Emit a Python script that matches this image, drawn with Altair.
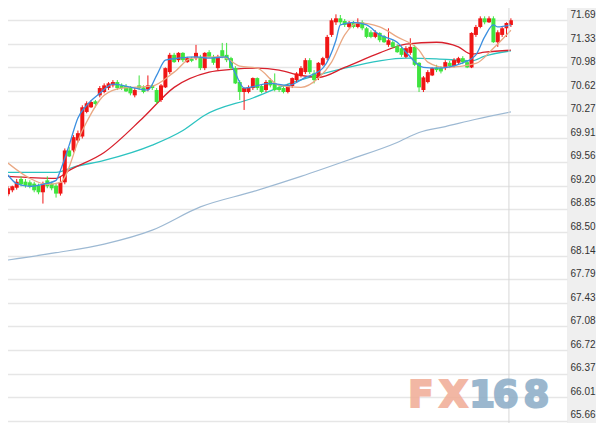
import altair as alt
import pandas as pd

# ---- candle data (index, OHLC) ----
opens = [69.07, 69.13, 69.17, 69.30, 69.26, 69.25, 69.23, 69.20, 69.10, 69.28,
         69.23, 69.20, 69.08, 69.25, 69.73, 69.73, 69.88, 69.94, 70.31, 70.38,
         70.47, 70.56, 70.61, 70.67, 70.71, 70.76, 70.71, 70.70, 70.67, 70.56,
         70.71, 70.68, 70.65, 70.71, 70.64, 70.49, 70.68, 70.91, 71.17, 71.09,
         71.20, 71.06, 71.11, 71.12, 71.14, 70.97, 71.21, 71.14, 70.97, 71.24,
         71.17, 71.12, 70.97, 70.76, 70.61, 70.61, 70.67, 70.82, 70.70, 70.64,
         70.79, 70.74, 70.68, 70.67, 70.61, 70.70, 70.79, 70.85, 70.91, 71.09,
         70.89, 70.82, 71.02, 71.12, 71.47, 71.66, 71.72, 71.68, 71.59, 71.65,
         71.59, 71.66, 71.57, 71.51, 71.44, 71.50, 71.45, 71.32, 71.36, 71.30,
         71.27, 71.14, 71.20, 71.29, 71.05, 70.64, 70.76, 70.86, 70.98, 70.97,
         70.97, 71.05, 71.00, 71.05, 71.12, 71.06, 70.98, 71.47, 71.59, 71.72,
         71.66, 71.72, 71.36, 71.47, 71.57, 71.62]
closes = [69.16, 69.19, 69.26, 69.22, 69.20, 69.19, 69.13, 69.10, 69.23, 69.19,
          69.16, 69.08, 69.25, 69.73, 69.64, 69.93, 69.99, 70.38, 70.44, 70.46,
          70.43, 70.67, 70.71, 70.74, 70.76, 70.67, 70.67, 70.62, 70.59, 70.64,
          70.67, 70.61, 70.71, 70.67, 70.46, 70.71, 70.97, 71.17, 71.06, 71.20,
          71.09, 71.12, 71.08, 71.20, 70.97, 71.20, 71.14, 71.05, 71.14, 71.14,
          71.09, 70.97, 70.74, 70.61, 70.67, 70.68, 70.82, 70.67, 70.61, 70.76,
          70.71, 70.64, 70.64, 70.61, 70.71, 70.82, 70.89, 70.97, 71.09, 70.91,
          70.79, 71.05, 71.12, 71.44, 71.69, 71.72, 71.66, 71.62, 71.65, 71.59,
          71.66, 71.57, 71.44, 71.44, 71.51, 71.39, 71.36, 71.39, 71.29, 71.21,
          71.17, 71.27, 71.29, 71.02, 70.68, 70.83, 70.91, 70.97, 70.94, 70.92,
          71.06, 71.00, 71.09, 71.12, 71.06, 70.98, 71.50, 71.59, 71.72, 71.66,
          71.72, 71.36, 71.51, 71.57, 71.65, 71.69]
highs = [69.19, 69.20, 69.30, 69.34, 69.30, 69.28, 69.26, 69.23, 69.26, 69.34,
         69.26, 69.23, 69.34, 69.76, 69.78, 69.96, 70.03, 70.41, 70.47, 70.49,
         70.49, 70.70, 70.74, 70.76, 70.79, 70.79, 70.74, 70.73, 70.70, 70.67,
         70.86, 70.71, 70.86, 70.73, 70.67, 70.73, 70.98, 71.20, 71.20, 71.21,
         71.21, 71.14, 71.14, 71.32, 71.17, 71.21, 71.24, 71.17, 71.17, 71.35,
         71.35, 71.14, 71.00, 70.79, 70.68, 70.71, 70.83, 70.83, 70.73, 70.79,
         70.82, 70.89, 70.71, 70.70, 70.73, 70.83, 70.91, 71.00, 71.12, 71.12,
         70.94, 71.06, 71.14, 71.47, 71.72, 71.78, 71.77, 71.71, 71.68, 71.68,
         71.72, 71.69, 71.59, 71.54, 71.54, 71.51, 71.47, 71.57, 71.39, 71.33,
         71.29, 71.30, 71.42, 71.32, 71.06, 70.85, 70.94, 70.98, 71.02, 71.00,
         71.09, 71.08, 71.12, 71.14, 71.15, 71.09, 71.51, 71.62, 71.75, 71.75,
         71.75, 71.75, 71.54, 71.60, 71.66, 71.72]
lows = [69.04, 69.10, 69.14, 69.19, 69.17, 69.16, 69.10, 69.07, 68.93, 69.16,
        69.13, 69.02, 69.05, 69.22, 69.63, 69.70, 69.85, 69.91, 70.29, 70.37,
        70.38, 70.53, 70.59, 70.64, 70.68, 70.64, 70.64, 70.61, 70.56, 70.53,
        70.64, 70.59, 70.62, 70.64, 70.43, 70.46, 70.67, 70.88, 71.05, 71.06,
        71.06, 71.05, 71.06, 71.09, 70.94, 70.94, 71.12, 71.02, 70.94, 71.12,
        71.06, 70.94, 70.73, 70.49, 70.34, 70.59, 70.64, 70.64, 70.59, 70.61,
        70.68, 70.62, 70.61, 70.59, 70.59, 70.67, 70.76, 70.83, 70.88, 70.88,
        70.74, 70.79, 71.00, 71.09, 71.44, 71.62, 71.63, 71.59, 71.57, 71.57,
        71.57, 71.54, 71.42, 71.42, 71.42, 71.36, 71.35, 71.29, 71.27, 71.20,
        71.14, 71.12, 71.17, 71.00, 70.61, 70.61, 70.74, 70.85, 70.91, 70.89,
        70.94, 70.97, 70.98, 71.02, 71.03, 70.97, 70.97, 71.44, 71.57, 71.63,
        71.65, 71.35, 71.29, 71.44, 71.44, 71.59]

# ---- moving averages (candle index, value) ----
ma5_idx = [0, 2, 5, 8, 11, 12, 14, 16, 18, 21, 24, 29, 32, 34, 36, 39, 43, 46, 50, 52,
           54, 60, 64, 68, 72, 75, 76, 79, 82, 85, 89, 91, 95, 98, 104, 107, 109, 111, 112, 115]
ma5_val = [69.36, 69.23, 69.19, 69.22, 69.28, 69.43, 69.81, 70.22, 70.41, 70.59,
           70.73, 70.67, 70.64, 70.86, 71.09, 71.12, 71.14, 71.12, 71.14, 70.89,
           70.67, 70.74, 70.71, 70.83, 70.97, 71.39, 71.62, 71.66, 71.62, 71.47,
           71.36, 71.21, 70.98, 70.97, 71.05, 71.17, 71.44, 71.62, 71.59, 71.62]
ma10_idx = [0, 5, 9, 12, 17, 22, 26, 33, 38, 42, 49, 53, 57, 62, 67, 71, 74, 77, 80, 85,
            89, 94, 96, 100, 107, 111, 115]
ma10_val = [69.54, 69.31, 69.22, 69.25, 70.03, 70.56, 70.67, 70.70, 70.91, 71.12,
            71.14, 71.00, 70.97, 70.71, 70.68, 70.82, 71.06, 71.47, 71.65, 71.59,
            71.44, 71.24, 71.06, 70.98, 71.04, 71.27, 71.54]
ma20_idx = [0, 11, 14, 22, 31, 38, 46, 51, 57, 62, 67, 71, 77, 85, 91, 98, 103, 106, 109, 115]
ma20_val = [69.34, 69.31, 69.43, 69.70, 70.23, 70.68, 70.91, 70.95, 70.97, 70.94,
            70.86, 70.83, 70.98, 71.20, 71.33, 71.36, 71.29, 71.18, 71.21, 71.24]
ma60_idx = [0, 11, 15, 22, 33, 40, 45, 56, 64, 70, 77, 85, 91, 98, 106, 109, 115]
ma60_val = [69.40, 69.40, 69.48, 69.58, 69.81, 70.03, 70.26, 70.52, 70.73, 70.85,
            70.97, 71.08, 71.12, 71.11, 71.08, 71.15, 71.23]
ma200_idx = [0, 11, 22, 33, 44, 56, 67, 78, 89, 94, 100, 107, 115]
ma200_val = [68.08, 68.19, 68.32, 68.53, 68.88, 69.11, 69.34, 69.59, 69.85, 70.00,
             70.09, 70.20, 70.31]

tick_values = [71.69, 71.33, 70.98, 70.62, 70.27, 69.91, 69.56, 69.20, 68.85,
               68.50, 68.14, 67.79, 67.43, 67.08, 66.72, 66.37, 66.01, 65.66]

cursor_index = [114.55]

# watermark "FX168": characters and their slot (in candle-index units)
wm_fx_chars = ["F", "X"]
wm_fx_pos = [94.4, 101.9]
wm_num_chars = ["1", "6", "8"]
wm_num_pos = [108.4, 113.8, 120.8]

# ---- tables ----
n = len(opens)
df = pd.DataFrame({"i": list(range(n)), "open": opens, "close": closes,
                   "high": highs, "low": lows})
df["dir"] = ["up" if c >= o else "down" for o, c in zip(opens, closes)]


def ma_df(idx, val):
    return pd.DataFrame({"i": idx, "v": val})


PLOT_W = 567
# keep one candle step at the same pixel width as before
xs = alt.Scale(domain=[-0.674, -0.674 + PLOT_W / 4.452], nice=False, zero=False)
ys = alt.Scale(domain=[65.625, 71.996], nice=False, zero=False)

yaxis = alt.Axis(orient="right", values=tick_values, format=".2f", grid=True,
                 gridColor="#e6e6e6", gridWidth=1.5, ticks=False, domain=False,
                 labelBaseline="bottom", labelOffset=-1, labelPadding=3,
                 labelAlign="left", labelFont="Liberation Sans", labelFontSize=10,
                 labelColor="#333333", labelOverlap=False, labelFlush=False,
                 labelBound=False, title=None)

color = alt.Color("dir:N", scale=alt.Scale(domain=["up", "down"],
                                           range=["#f01515", "#3fe43f"]), legend=None)

X = lambda f: alt.X(f, scale=xs, axis=None)
Y = lambda f: alt.Y(f, scale=ys, axis=yaxis)

base = alt.Chart(df)
wicks = base.mark_rule(strokeWidth=1).encode(
    x=X("i:Q"), y=Y("low:Q"), y2="high:Q", color=color,
)
bodies = base.mark_bar(size=4).encode(
    x=X("i:Q"), y=Y("open:Q"), y2="close:Q", color=color,
)


def ma_line(idx, val, col, w=1.3):
    return alt.Chart(ma_df(idx, val)).mark_line(
        color=col, strokeWidth=w, interpolate="monotone").encode(
        x=X("i:Q"), y=Y("v:Q"))


l200 = ma_line(ma200_idx, ma200_val, "#9db9d3", 1.2)
l60 = ma_line(ma60_idx, ma60_val, "#2cc3c0", 1.3)
l20 = ma_line(ma20_idx, ma20_val, "#d8202c", 1.3)
l10 = ma_line(ma10_idx, ma10_val, "#eaa883", 1.3)
l5 = ma_line(ma5_idx, ma5_val, "#3b8fe0", 1.3)

vline = alt.Chart(pd.DataFrame({"c": cursor_index})).mark_rule(
    color="#d8d8d8", strokeWidth=1).encode(x=X("c:Q"))


def wm_layer(chars, pos, col):
    return alt.Chart(pd.DataFrame({"t": chars, "p": pos})).mark_text(
        font="DejaVu Sans", fontWeight="bold", fontSize=37, color=col,
        stroke=col, strokeWidth=2.2, strokeJoin="miter",
        align="center", baseline="alphabetic", opacity=0.88).encode(
        text="t:N", x=X("p:Q"), y=alt.value(407))


wm_fx = wm_layer(wm_fx_chars, wm_fx_pos, "#f1ae98")
wm_num = wm_layer(wm_num_chars, wm_num_pos, "#8eaec8")

# the page puts the chart 8px in; a -8 padding lines the plot up with the page corner,
# and the svg stays 588px wide so the page does not shrink it
chart = alt.layer(
    l200, l60, l20, wicks, bodies, l10, l5, vline, wm_fx, wm_num
).properties(
    width=PLOT_W, height=423,
    autosize="none",
    padding={"left": -8, "top": -8, "right": 588 - (PLOT_W - 8), "bottom": 0},
    background="#efefef",
).configure_view(stroke=None, fill="white").configure_axis(labelOverlap=False)

chart.save("out.html", embed_options={"renderer": "svg", "actions": False})
